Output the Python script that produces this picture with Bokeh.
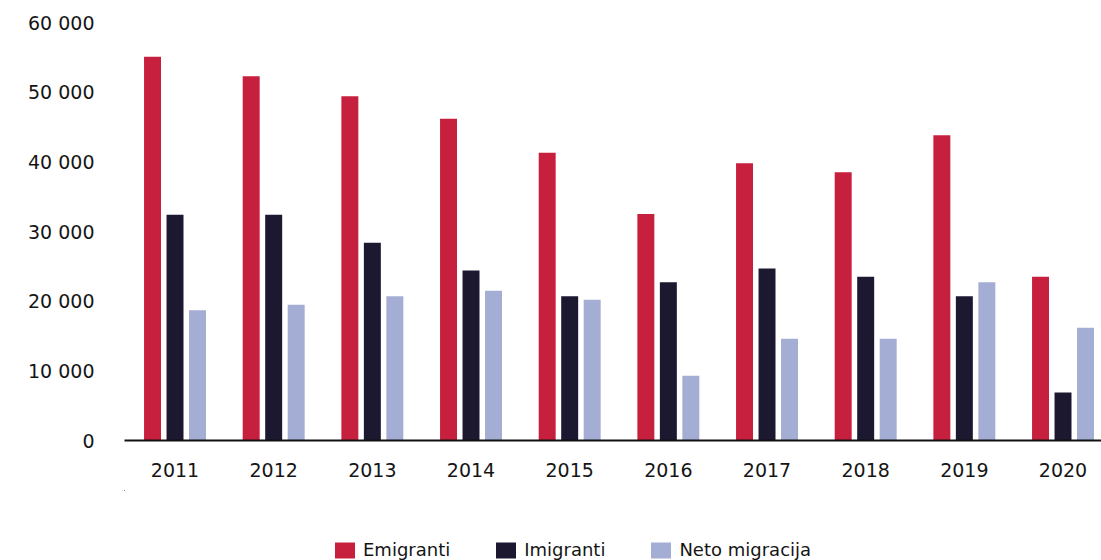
from bokeh.plotting import figure
from bokeh.models import ColumnDataSource, Range1d, FixedTicker, Legend, LegendItem
from bokeh.layouts import column
from bokeh.transform import dodge
from bokeh.embed import file_html
from bokeh.resources import INLINE

years = ["2011", "2012", "2013", "2014", "2015", "2016", "2017", "2018", "2019", "2020"]
emigranti = [55100, 52300, 49400, 46200, 41300, 32500, 39800, 38500, 43800, 23500]
imigranti = [32400, 32400, 28400, 24400, 20700, 22700, 24700, 23500, 20700, 6900]
neto = [18700, 19500, 20700, 21500, 20200, 9300, 14600, 14600, 22700, 16200]
series_names = ["Emigranti", "Imigranti", "Neto migracija"]
y_ticks = [0, 10000, 20000, 30000, 40000, 50000, 60000]
y_tick_labels = ["0", "10 000", "20 000", "30 000", "40 000", "50 000", "60 000"]

colors = ["#C7203E", "#1B1830", "#A4ADD3"]
FONT = "DejaVu Sans"
TXT = "#151515"

src = ColumnDataSource(dict(x=list(range(len(years))), e=emigranti, i=imigranti, n=neto))

p = figure(width=1101, height=490, output_backend="svg", toolbar_location=None,
           x_range=Range1d(-0.512, 9.39), y_range=Range1d(0, 60000),
           min_border_left=124, min_border_right=0, min_border_top=22, min_border_bottom=50)
p.outline_line_color = None
p.xgrid.visible = False
p.ygrid.visible = False

w = 0.172
off = 0.228
r1 = p.vbar(x=dodge("x", -off, range=p.x_range), top="e", width=w, source=src, color=colors[0], line_color=None)
r2 = p.vbar(x=dodge("x", 0.0, range=p.x_range), top="i", width=w, source=src, color=colors[1], line_color=None)
r3 = p.vbar(x=dodge("x", off, range=p.x_range), top="n", width=w, source=src, color=colors[2], line_color=None)

# x axis
p.xaxis.ticker = FixedTicker(ticks=list(range(len(years))))
p.xaxis.major_label_overrides = {i: y for i, y in enumerate(years)}
p.xaxis.axis_line_width = 2
p.xaxis.axis_line_color = "#111111"
p.xaxis.major_tick_line_color = None
p.xaxis.minor_tick_line_color = None
p.xaxis.major_label_standoff = 16
p.xaxis.major_label_text_font = FONT
p.xaxis.major_label_text_font_size = "19px"
p.xaxis.major_label_text_color = TXT

# y axis
p.yaxis.ticker = FixedTicker(ticks=y_ticks)
p.yaxis.major_label_overrides = {t: l for t, l in zip(y_ticks, y_tick_labels)}
p.yaxis.axis_line_color = None
p.yaxis.major_tick_line_color = None
p.yaxis.minor_tick_line_color = None
p.yaxis.major_label_standoff = 24
p.yaxis.major_label_text_font = FONT
p.yaxis.major_label_text_font_size = "19px"
p.yaxis.major_label_text_color = TXT

# legend strip below the chart (its bars have zero height and lie outside its ranges; only the legend shows)
lg = figure(width=1101, height=70, output_backend="svg", toolbar_location=None,
            x_range=Range1d(10, 11), y_range=Range1d(-200000, -100000),
            min_border_left=0, min_border_right=0, min_border_top=0, min_border_bottom=0)
lg.outline_line_color = None
lg.axis.visible = False
lg.grid.visible = False
l1 = lg.vbar(x="x", top="e", bottom="e", width=0.1, source=src, color=colors[0], line_color=None)
l2 = lg.vbar(x="x", top="i", bottom="i", width=0.1, source=src, color=colors[1], line_color=None)
l3 = lg.vbar(x="x", top="n", bottom="n", width=0.1, source=src, color=colors[2], line_color=None)

legend = Legend(items=[LegendItem(label=series_names[0], renderers=[l1]),
                       LegendItem(label=series_names[1], renderers=[l2]),
                       LegendItem(label=series_names[2], renderers=[l3])],
                orientation="horizontal", location=(208, 0),
                glyph_width=25, glyph_height=20, label_height=20,
                label_standoff=6, spacing=43, padding=0, margin=0,
                border_line_color=None, background_fill_alpha=0,
                label_text_font=FONT, label_text_font_size="18px",
                label_text_color=TXT)
lg.add_layout(legend, "center")

layout = column(p, lg, spacing=0)
open("out.html", "w").write(file_html(layout, INLINE))
